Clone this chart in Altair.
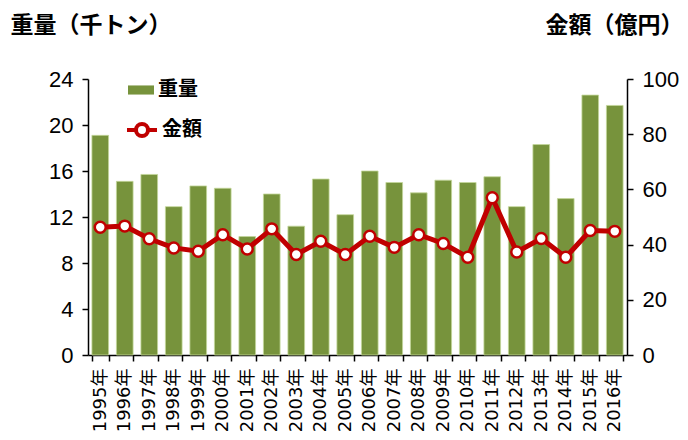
import altair as alt
import pandas as pd

years = ["1995年", "1996年", "1997年", "1998年", "1999年", "2000年", "2001年", "2002年",
         "2003年", "2004年", "2005年", "2006年", "2007年", "2008年", "2009年", "2010年",
         "2011年", "2012年", "2013年", "2014年", "2015年", "2016年"]
weight = [19.1, 15.1, 15.7, 12.9, 14.7, 14.5, 10.3, 14.0, 11.2, 15.3, 12.2,
          16.0, 15.0, 14.1, 15.2, 15.0, 15.5, 12.9, 18.3, 13.6, 22.6, 21.7]
amount = [46.3, 46.7, 42.1, 38.8, 37.6, 43.6, 38.4, 45.7, 36.4, 41.2, 36.4,
          43.0, 39.0, 43.6, 40.4, 35.4, 57.0, 37.3, 42.2, 35.4, 45.1, 44.8]
left_ticks = [0, 4, 8, 12, 16, 20, 24]
right_ticks = [0, 20, 40, 60, 80, 100]

GREEN = "#77933C"
RED = "#C00000"
CJK = "Noto Sans CJK JP"
NUM = "Liberation Sans, Arial, Noto Sans CJK JP"

df = pd.DataFrame({
    "year": years,
    "weight": weight,
    "amount": amount,
    "s1": ["重量"] * len(years),
    "s2": ["金額"] * len(years),
})

base = alt.Chart(df)

x = alt.X(
    "year:N", sort=None,
    scale=alt.Scale(paddingInner=0.32, paddingOuter=0.16),
    axis=alt.Axis(title=None, labelAngle=270, tickBand="extent",
                  labelFont="DejaVu Sans, Noto Sans CJK JP", labelFontSize=18,
                  labelPadding=7, tickSize=6),
)

bars = base.mark_bar(stroke="#c4d79b", strokeWidth=0.8).encode(
    x=x,
    y=alt.Y("weight:Q", scale=alt.Scale(domain=[0, 24], nice=False),
            axis=alt.Axis(values=left_ticks, title="重量（千トン）", titleAngle=0,
                          titleAlign="left", titleBaseline="middle", titleX=-78, titleY=-54,
                          titleFont=CJK, titleFontSize=23, titleFontWeight="bold",
                          labelFont=NUM, labelFontSize=22, labelPadding=9, tickSize=6)),
    fill=alt.Fill("s1:N", scale=alt.Scale(domain=["重量"], range=[GREEN]),
                  legend=alt.Legend(title=None, orient="none", legendX=40, legendY=-2,
                                    symbolType="M-1,-0.35H1V0.35H-1Z", symbolSize=676,
                                    symbolStrokeWidth=0, labelFont=CJK, labelFontSize=20,
                                    labelFontWeight="bold", labelOffset=4, padding=0)),
)

right_axis = alt.Axis(orient="right", values=right_ticks, title="金額（億円）", titleAngle=0,
                      titleAlign="right", titleBaseline="middle", titleX=56, titleY=-54,
                      titleFont=CJK, titleFontSize=23, titleFontWeight="bold",
                      labelFont=NUM, labelFontSize=22, labelPadding=9, tickSize=6)

yr = alt.Y("amount:Q", scale=alt.Scale(domain=[0, 100], nice=False), axis=right_axis)

line = base.mark_line(color=RED, strokeWidth=5).encode(x=x, y=yr)

points = base.mark_point(filled=True, fill="white", strokeWidth=2.5, size=120, opacity=1).encode(
    x=x,
    y=yr,
    stroke=alt.Stroke("s2:N", scale=alt.Scale(domain=["金額"], range=[RED]),
                      legend=alt.Legend(title=None, orient="none", legendX=37, legendY=34,
                                        symbolType="M-1,0H-0.4M0.4,0H1M-0.4,0A0.4,0.4 0 1,0 0.4,0A0.4,0.4 0 1,0 -0.4,0Z",
                                        symbolSize=900, symbolStrokeWidth=4,
                                        symbolFillColor="white", labelFont=CJK, labelFontSize=20,
                                        labelFontWeight="bold", labelOffset=3, padding=0)),
)

chart = alt.layer(bars, alt.layer(line, points)).resolve_scale(
    y="independent", fill="independent", stroke="independent"
).properties(
    width=539, height=276,
    autosize=alt.AutoSizeParams(type="none"),
    padding={"left": 80, "top": 71, "right": 53, "bottom": 77},
).configure_view(stroke=None).configure_axis(
    grid=False, domainColor="black", domainWidth=1.5, tickColor="black", tickWidth=1.5,
    labelColor="black", titleColor="black",
).configure_legend(labelColor="black")

chart.save("out.html", embed_options={"renderer": "svg", "actions": False})
